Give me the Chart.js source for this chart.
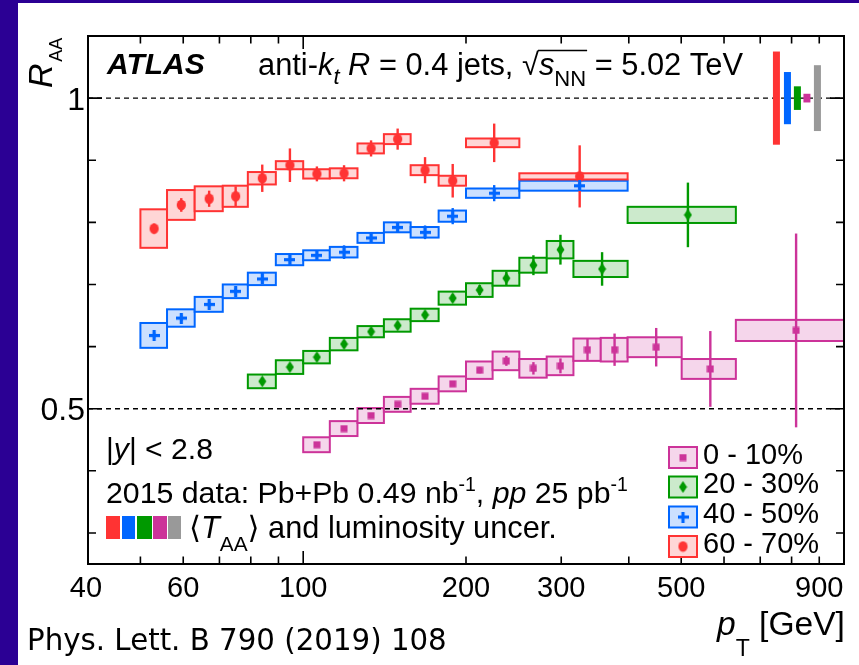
<!DOCTYPE html>
<html>
<head>
<meta charset="utf-8">
<script src="https://cdn.jsdelivr.net/npm/chart.js@4.4.0/dist/chart.umd.min.js"></script>
<style>
  html, body { margin: 0; padding: 0; background: #fff; }
  canvas { display: block; }
</style>
</head>
<body>
<canvas id="chart" width="859" height="665"></canvas>
<script>
// pT bin edges [GeV], R_AA, statistical and systematic uncertainties, per centrality
var binsPink = [100, 112, 126, 141, 158, 178, 200, 224, 251, 282, 316, 355, 398, 501, 631, 1000];
var raaPink  = [0.442, 0.468, 0.489, 0.507, 0.520, 0.540, 0.562, 0.577, 0.565, 0.569, 0.595, 0.595, 0.599, 0.564, 0.626];
var statPink = [0.003, 0.003, 0.003, 0.003, 0.003, 0.003, 0.005, 0.008, 0.010, 0.012, 0.018, 0.026, 0.031, 0.061, 0.156];
var sysPink  = [0.012, 0.012, 0.012, 0.012, 0.012, 0.012, 0.014, 0.015, 0.015, 0.015, 0.018, 0.019, 0.016, 0.016, 0.017];

var binsGreen = [79, 89, 100, 112, 126, 141, 158, 178, 200, 224, 251, 282, 316, 398, 631];
var raaGreen  = [0.544, 0.567, 0.583, 0.604, 0.624, 0.634, 0.651, 0.678, 0.691, 0.710, 0.731, 0.756, 0.725, 0.812];
var statGreen = [0.005, 0.005, 0.005, 0.005, 0.005, 0.005, 0.005, 0.006, 0.008, 0.011, 0.016, 0.024, 0.027, 0.052];
var sysGreen  = [0.011, 0.011, 0.010, 0.010, 0.009, 0.010, 0.010, 0.0105, 0.011, 0.012, 0.012, 0.014, 0.013, 0.013];

var binsBlue = [50, 56, 63, 71, 79, 89, 100, 112, 126, 141, 158, 178, 200, 251, 398];
var raaBlue  = [0.618, 0.646, 0.668, 0.689, 0.709, 0.740, 0.747, 0.752, 0.775, 0.792, 0.784, 0.810, 0.847, 0.859];
var statBlue = [0.005, 0.005, 0.005, 0.005, 0.008, 0.010, 0.008, 0.011, 0.008, 0.008, 0.011, 0.013, 0.013, 0.005];
var sysBlue  = [0.020, 0.014, 0.012, 0.011, 0.010, 0.009, 0.008, 0.0085, 0.008, 0.008, 0.0085, 0.009, 0.0075, 0.008];

var binsRed = [50, 56, 63, 71, 79, 89, 100, 112, 126, 141, 158, 178, 200, 251, 398];
var raaRed  = [0.790, 0.828, 0.838, 0.842, 0.871, 0.892, 0.878, 0.879, 0.919, 0.934, 0.884, 0.867, 0.928, 0.874];
var statRed = [0.008, 0.011, 0.013, 0.016, 0.022, 0.027, 0.012, 0.013, 0.013, 0.017, 0.021, 0.027, 0.031, 0.050];
var sysRed  = [0.031, 0.024, 0.020, 0.017, 0.010, 0.0065, 0.0075, 0.008, 0.008, 0.008, 0.008, 0.008, 0.007, 0.005];

// <T_AA> and luminosity uncertainties drawn around 1
var normPt  = [750, 786, 820, 854, 893];
var normUnc = [0.075, 0.042, 0.019, 0.007, 0.053];

var legendLabels = ["0 - 10%", "20 - 30%", "40 - 50%", "60 - 70%"];
var xTickLabels = [40, 60, 100, 200, 300, 500, 900];
var xMinor = [50, 60, 70, 80, 90, 200, 300, 400, 500, 600, 700, 800, 900];
var xMajor = [100];
var yTickLabels = [0.5, 1];
var yMinor = [0.3, 0.4, 0.6, 0.7, 0.8, 0.9];

var FONT = '"Liberation Sans", Arial, "DejaVu Sans", sans-serif';

function marker(kind, color) {
  var m = document.createElement("canvas");
  var c = m.getContext("2d");
  c.fillStyle = color;
  if (kind === "circle") {
    m.width = 11; m.height = 12;
    c = m.getContext("2d"); c.fillStyle = color;
    c.beginPath(); c.ellipse(5.5, 6, 4.6, 5.2, 0, 0, Math.PI * 2); c.fill();
  } else if (kind === "square") {
    m.width = 8; m.height = 8;
    c = m.getContext("2d"); c.fillStyle = color;
    c.fillRect(0.5, 0.5, 7, 7);
  } else if (kind === "diamond") {
    m.width = 9; m.height = 12;
    c = m.getContext("2d"); c.fillStyle = color;
    c.beginPath(); c.moveTo(4.5, 0); c.lineTo(8.5, 6); c.lineTo(4.5, 12); c.lineTo(0.5, 6); c.closePath(); c.fill();
  } else {
    m.width = 11; m.height = 11;
    c = m.getContext("2d"); c.fillStyle = color;
    c.fillRect(0, 4, 11, 3.2); c.fillRect(3.9, 0, 3.2, 11);
  }
  return m;
}

var series = [
  { bins: binsPink, raa: raaPink, stat: statPink, sys: sysPink, color: "#cc3399", fill: "#f5d6eb", mk: marker("square", "#cc3399") },
  { bins: binsGreen, raa: raaGreen, stat: statGreen, sys: sysGreen, color: "#009900", fill: "#cceacc", mk: marker("diamond", "#009900") },
  { bins: binsBlue, raa: raaBlue, stat: statBlue, sys: sysBlue, color: "#0066ff", fill: "#cce0ff", mk: marker("plus", "#0066ff") },
  { bins: binsRed, raa: raaRed, stat: statRed, sys: sysRed, color: "#ff3333", fill: "#ffd6d6", mk: marker("circle", "#ff3333") }
];
var normColors = ["#ff3333", "#0066ff", "#009900", "#cc3399", "#999999"];

function fnt(st, sz, fam) {
  return (st || "") + " " + sz + "px " + (fam || FONT);
}

// draws a row of text pieces; optional fitW rescales all sizes to that width
function rich(c, x, y, parts, fitW) {
  var k = 1, pos = [];
  if (fitW) {
    var w = 0;
    parts.forEach(function(p) { c.font = fnt(p.st, p.sz, p.fam); w += c.measureText(p.t).width; });
    k = fitW / w;
  }
  parts.forEach(function(p) {
    c.font = fnt(p.st, p.sz * k, p.fam);
    c.fillText(p.t, x, y + (p.dy || 0) * k);
    var w = c.measureText(p.t).width;
    pos.push([x, x + w]);
    x += w;
  });
  pos.k = k;
  return pos;
}

var physPlugin = {
  id: "phys",
  beforeDraw: function(chart) {
    var c = chart.ctx;
    c.save();
    c.fillStyle = "#2b0094";
    c.fillRect(0, 0, chart.width, chart.height);
    c.fillStyle = "#ffffff";
    c.fillRect(18, 3, chart.width - 18, chart.height - 3);
    c.restore();
  },
  beforeDatasetsDraw: function(chart) {
    var c = chart.ctx, xs = chart.scales.x, ys = chart.scales.y, a = chart.chartArea;
    c.save();
    c.beginPath();
    c.rect(a.left, a.top, a.right - a.left, a.bottom - a.top);
    c.clip();

    // systematic boxes
    series.forEach(function(s) {
      s.raa.forEach(function(v, i) {
        var x0 = xs.getPixelForValue(s.bins[i]), x1 = xs.getPixelForValue(s.bins[i + 1]);
        var y0 = ys.getPixelForValue(v + s.sys[i]), y1 = ys.getPixelForValue(v - s.sys[i]);
        c.fillStyle = s.fill;
        c.fillRect(x0, y0, x1 - x0, y1 - y0);
        c.strokeStyle = s.color;
        c.lineWidth = 2;
        c.strokeRect(x0, y0, x1 - x0, y1 - y0);
      });
    });

    // reference lines
    c.strokeStyle = "#000";
    c.lineWidth = 1.4;
    c.setLineDash([5, 4]);
    yTickLabels.forEach(function(v) {
      var y = ys.getPixelForValue(v);
      c.beginPath(); c.moveTo(a.left, y); c.lineTo(a.right, y); c.stroke();
    });
    c.setLineDash([]);

    // normalisation uncertainties
    normPt.forEach(function(p, i) {
      var x = xs.getPixelForValue(p);
      var y0 = ys.getPixelForValue(1 + normUnc[i]), y1 = ys.getPixelForValue(1 - normUnc[i]);
      c.fillStyle = normColors[i];
      c.fillRect(x - 3.5, y0, 7, y1 - y0);
    });

    // statistical error bars
    series.forEach(function(s) {
      c.strokeStyle = s.color;
      c.lineWidth = 2.4;
      s.raa.forEach(function(v, i) {
        var x = xs.getPixelForValue((s.bins[i] + s.bins[i + 1]) / 2);
        c.beginPath();
        c.moveTo(x, ys.getPixelForValue(v + s.stat[i]));
        c.lineTo(x, ys.getPixelForValue(v - s.stat[i]));
        c.stroke();
      });
    });
    c.restore();
  },
  afterDatasetsDraw: function(chart) {
    var c = chart.ctx, xs = chart.scales.x, ys = chart.scales.y, a = chart.chartArea;
    c.save();

    // frame and inward ticks
    c.strokeStyle = "#000";
    c.lineWidth = 2;
    c.strokeRect(a.left, a.top, a.right - a.left, a.bottom - a.top);
    c.lineWidth = 1.6;
    function xt(vals, len) {
      vals.forEach(function(v) {
        var x = xs.getPixelForValue(v);
        c.beginPath();
        c.moveTo(x, a.bottom); c.lineTo(x, a.bottom - len);
        c.moveTo(x, a.top); c.lineTo(x, a.top + len);
        c.stroke();
      });
    }
    function yt(vals, len) {
      vals.forEach(function(v) {
        var y = ys.getPixelForValue(v);
        c.beginPath();
        c.moveTo(a.left, y); c.lineTo(a.left + len, y);
        c.moveTo(a.right, y); c.lineTo(a.right - len, y);
        c.stroke();
      });
    }
    xt(xMinor, 7.5); xt(xMajor, 13);
    yt(yMinor, 8); yt(yTickLabels, 14);

    c.fillStyle = "#000";
    c.textBaseline = "alphabetic";
    c.textAlign = "center";
    c.font = fnt("", 29);
    xTickLabels.forEach(function(v) {
      c.fillText(String(v), xs.getPixelForValue(v) - (v === 40 ? 2 : 0), 597);
    });
    c.textAlign = "right";
    c.font = fnt("", 32);
    yTickLabels.forEach(function(v) {
      c.fillText(String(v), 85, ys.getPixelForValue(v) + 11.5);
    });
    c.textAlign = "left";

    // axis titles
    c.save();
    c.translate(52, 88);
    c.rotate(-Math.PI / 2);
    rich(c, 0, 0, [{ t: "R", st: "italic", sz: 34 }, { t: " ", sz: 6 }, { t: "AA", sz: 18, dy: 10 }]);
    c.restore();
    rich(c, 717, 635, [{ t: "p", st: "italic", sz: 32 }, { t: "T", sz: 22, dy: 20 }, { t: " [GeV]", sz: 32 }], 128);

    // header
    c.font = fnt("italic bold", 30);
    c.fillText("ATLAS", 107, 74);
    var hp = rich(c, 258, 75, [
      { t: "anti-", sz: 28 }, { t: "k", st: "italic", sz: 28 }, { t: "t", st: "italic", sz: 20, dy: 8 },
      { t: " ", sz: 28 }, { t: "R", st: "italic", sz: 28 }, { t: " = 0.4 jets, ", sz: 28 },
      { t: "\u221A", sz: 28 }, { t: "s", st: "italic", sz: 28 }, { t: "NN", sz: 20, dy: 10 },
      { t: " = 5.02 TeV", sz: 28 }
    ], 485);
    c.lineWidth = 1.5;
    c.beginPath();
    c.moveTo(hp[6][1] - 1, 50.5); c.lineTo(hp[8][1] + 1, 50.5);
    c.stroke();

    // lower-left annotations
    rich(c, 106, 459, [{ t: "|", sz: 28 }, { t: "y", st: "italic", sz: 28 }, { t: "| < 2.8", sz: 28 }], 107);
    rich(c, 106, 503, [
      { t: "2015 data: Pb+Pb 0.49 nb", sz: 28 }, { t: "-1", sz: 18, dy: -11 }, { t: ", ", sz: 28 },
      { t: "pp", st: "italic", sz: 28 }, { t: " 25 pb", sz: 28 }, { t: "-1", sz: 18, dy: -11 }
    ], 522);
    var sq = [[106, 120], [122, 135], [137, 152], [153, 167], [168, 181]];
    sq.forEach(function(r, i) {
      c.fillStyle = normColors[i];
      c.fillRect(r[0], 516, r[1] - r[0], 23);
    });
    c.fillStyle = "#000";
    rich(c, 189, 538, [
      { t: "\u27E8", sz: 28 }, { t: "T", st: "italic", sz: 28 }, { t: "AA", sz: 19, dy: 12 },
      { t: "\u27E9", sz: 28 }, { t: " and luminosity uncer.", sz: 28 }
    ], 368);

    // legend
    var ly = [457.5, 487, 517, 546.5];
    series.forEach(function(s, i) {
      c.fillStyle = s.fill;
      c.fillRect(669, ly[i] - 10.5, 28, 21);
      c.strokeStyle = s.color;
      c.lineWidth = 2;
      c.strokeRect(669, ly[i] - 10.5, 28, 21);
      c.drawImage(s.mk, 683 - s.mk.width / 2, ly[i] - s.mk.height / 2);
      c.fillStyle = "#000";
      c.font = fnt("", 29);
      c.fillText(legendLabels[i], 703, ly[i] + 6);
    });

    // reference
    c.font = fnt("", 24, '"DejaVu Sans", sans-serif');
    var w = c.measureText("Phys. Lett. B 790 (2019) 108").width;
    c.font = fnt("", 24 * 420 / w, '"DejaVu Sans", sans-serif');
    c.fillText("Phys. Lett. B 790 (2019) 108", 27, 650);
    c.restore();
  }
};

var datasets = series.map(function(s) {
  return {
    data: s.raa.map(function(v, i) { return { x: (s.bins[i] + s.bins[i + 1]) / 2, y: v }; }),
    pointStyle: s.mk,
    pointRadius: 5,
    showLine: false
  };
});

new Chart(document.getElementById("chart").getContext("2d"), {
  type: "scatter",
  data: { datasets: datasets },
  options: {
    responsive: false,
    animation: false,
    devicePixelRatio: 1,
    layout: { padding: { left: 88, top: 36, right: 15, bottom: 101 } },
    plugins: { legend: { display: false }, tooltip: { enabled: false } },
    scales: {
      x: { type: "logarithmic", min: 40, max: 1000, display: false },
      y: { type: "linear", min: 0.25, max: 1.1, display: false }
    }
  },
  plugins: [physPlugin]
});
</script>
</body>
</html>
